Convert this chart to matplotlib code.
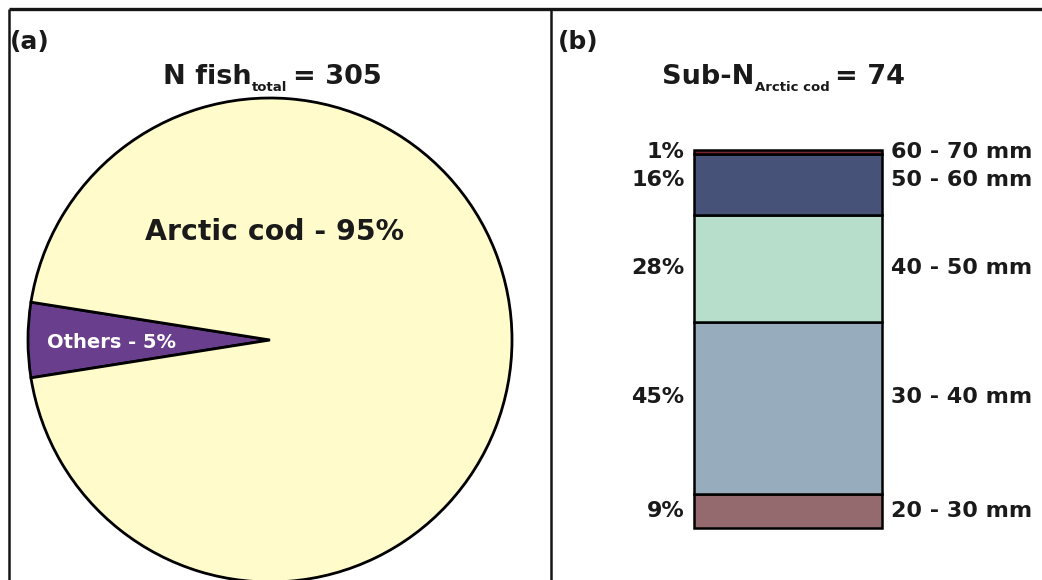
import matplotlib
matplotlib.use("Agg")
import matplotlib.pyplot as plt

plt.rcParams['font.family'] = ['DejaVu Sans']
plt.rcParams['font.weight'] = 'bold'

# ---- data ----
pie_labels = ["Others - 5%", "Arctic cod - 95%"]
pie_values = [5, 95]
pie_colors = ["#693f8d", "#fffbcb"]

size_classes = ["20 - 30 mm", "30 - 40 mm", "40 - 50 mm", "50 - 60 mm", "60 - 70 mm"]
size_pct = [9, 45, 28, 16, 1]
size_colors = ["#956a6e", "#97adbe", "#b6deca", "#475279", "#7a2430"]

n_total = 305
n_sub = 74

W, H = 1042, 580
fig = plt.figure(figsize=(W / 100, H / 100), dpi=100)
fig.patch.set_facecolor("white")
INK = "#1a1a1a"


def fx(x):
    return x / W


def fy(y):
    return 1 - y / H


# overlay for frame lines and panel text (pixel space)
over = fig.add_axes([0, 0, 1, 1], zorder=5)
over.set_xlim(0, W)
over.set_ylim(H, 0)
over.axis("off")
over.patch.set_alpha(0)
over.plot([9, W], [9, 9], color="#151515", lw=2.4, solid_capstyle="butt")
over.plot([9, 9], [9, H], color="#151515", lw=1.8, solid_capstyle="butt")
over.plot([551, 551], [9, H], color="#151515", lw=1.8, solid_capstyle="butt")

# ---- panel (a): pie ----
r_px = 242
cx, cy = 270, 340
axp = fig.add_axes([fx(cx - r_px), fy(cy + r_px), 2 * r_px / W, 2 * r_px / H])
wedges, _ = axp.pie(pie_values, colors=pie_colors, startangle=180 - 360 * pie_values[0] / 200,
                    counterclock=True, radius=1,
                    wedgeprops=dict(edgecolor="black", linewidth=2.0))
for w in wedges:
    w.set_clip_on(False)
axp.set_xlim(-1, 1)
axp.set_ylim(-1, 1)
axp.set_aspect("equal")
axp.axis("off")

axp.text(0.02, 0.445, pie_labels[1], ha="center", va="center", fontsize=20.4,
         fontweight="bold", color=INK)
axp.text(-0.92, -0.01, pie_labels[0], ha="left", va="center", fontsize=14,
         fontweight="bold", color="white")

# panel tags
over.text(10, 49, "(a)", fontsize=18, fontweight="bold", color=INK, va="baseline")
over.text(558, 49, "(b)", fontsize=18, fontweight="bold", color=INK, va="baseline")


def sub_title(x, y, main, sub, tail):
    t1 = over.text(x, y, main, fontsize=19.5, fontweight="bold", color=INK, va="baseline")
    t2 = over.annotate(sub, xy=(1, 0), xycoords=t1, xytext=(0.5, -1.0), textcoords="offset points",
                       fontsize=9.5, fontweight="bold", color=INK, va="baseline",
                       annotation_clip=False)
    over.annotate(tail, xy=(1, 0), xycoords=(t2, t1), xytext=(4, 0), textcoords="offset points",
                  fontsize=19.5, fontweight="bold", color=INK, va="bottom",
                  annotation_clip=False)


sub_title(163, 84, "N fish", "total", f"= {n_total}")
sub_title(662, 84, "Sub-N", "Arctic cod", f"= {n_sub}")

# ---- panel (b): stacked bar ----
bar_top, bar_bot = 150, 528
axb = fig.add_axes([fx(694), fy(bar_bot), 188 / W, (bar_bot - bar_top) / H])
bottom = 0
centers = []
for v, c in zip(size_pct, size_colors):
    axb.bar(0, v, bottom=bottom, width=1.0, color=c, edgecolor="black",
            linewidth=1.8, clip_on=False)
    centers.append(bottom + v / 2)
    bottom += v
axb.set_xlim(-0.5, 0.5)
axb.set_ylim(0, sum(size_pct))
axb.axis("off")

# label offsets (in percent units) keep the thin top classes readable
label_shift = [0, 2.8, 0, 1.1, 0]
for pct, cls, yc, dy in zip(size_pct, size_classes, centers, label_shift):
    axb.text(-0.55, yc + dy, f"{pct}%", ha="right", va="center", fontsize=16,
             fontweight="bold", color=INK, clip_on=False)
    axb.text(0.55, yc + dy, cls, ha="left", va="center", fontsize=16,
             fontweight="bold", color=INK, clip_on=False)

fig.savefig("out.png", dpi=100, facecolor="white")
